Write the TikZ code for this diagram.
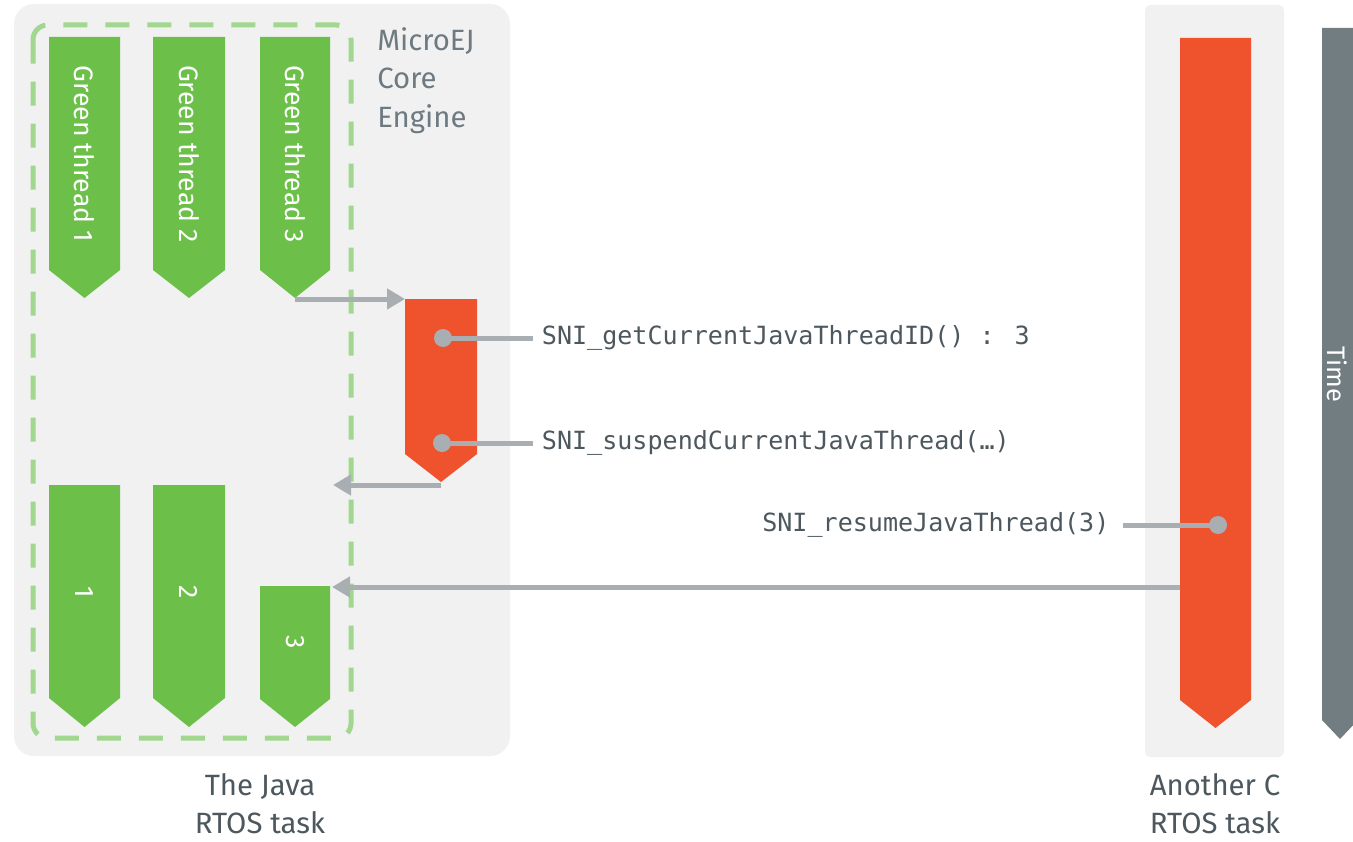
\documentclass[tikz,border=0pt]{standalone}
\usepackage{fontspec}
\setmainfont{Fira Sans}
\newfontfamily\codefont{DejaVu Sans Mono}
\usetikzlibrary{arrows.meta}
\definecolor{panelgrey}{HTML}{F1F1F1}
\definecolor{threadgreen}{HTML}{6CC04A}
\definecolor{dashgreen}{HTML}{A2D78F}
\definecolor{taskred}{HTML}{EE532E}
\definecolor{linkgrey}{HTML}{A8AEB1}
\definecolor{timegrey}{HTML}{727D82}
\definecolor{labelgrey}{HTML}{6E7A82}
\definecolor{textdark}{HTML}{4D585E}
\tikzset{
  arr/.style={draw=linkgrey, line width=3.75pt, -{Triangle[length=13.5pt,width=15pt]}},
  conn/.style={draw=linkgrey, line width=3.75pt},
  dot/.style={circle, fill=linkgrey, minimum size=13.5pt, inner sep=0pt},
  threadtxt/.style={text=white, rotate=-90, font=\fontsize{20}{24}\selectfont, inner sep=0pt},
  codetxt/.style={text=textdark, font=\codefont\fontsize{18.8}{22}\selectfont, inner ysep=0pt},
  bigtxt/.style={font=\fontsize{22}{29}\selectfont, inner sep=0pt}
}
\begin{document}
\begin{tikzpicture}[x=0.75pt,y=-0.75pt]
\useasboundingbox (0,0) rectangle (1353,842);
\fill[white] (0,0) rectangle (1353,842);
% panels
\fill[panelgrey, rounded corners=15pt] (14,4) rectangle (510,756);
\fill[panelgrey, rounded corners=4pt] (1145,5) rectangle (1284,757);
% dashed frame
\draw[dashgreen, line width=3.75pt, rounded corners=11pt, dash pattern=on 18pt off 13.5pt] (33,25) rectangle (351,738);
% top green threads
\fill[threadgreen] (49,37) -- (120,37) -- (120,270) -- (84.5,298) -- (49,270) -- cycle;
\fill[threadgreen] (153,37) -- (225,37) -- (225,270) -- (189,298) -- (153,270) -- cycle;
\fill[threadgreen] (260,37) -- (330,37) -- (330,270) -- (295,298) -- (260,270) -- cycle;
\node[threadtxt] (g1) at (84,154) {Green thread 1};
\node[threadtxt] (g2) at (189,154) {Green thread 2};
\node[threadtxt] (g3) at (295,154) {Green thread 3};
% bottom green threads
\fill[threadgreen] (49,485) -- (120,485) -- (120,698) -- (84.5,727) -- (49,698) -- cycle;
\fill[threadgreen] (153,485) -- (225,485) -- (225,698) -- (189,727) -- (153,698) -- cycle;
\fill[threadgreen] (260,586) -- (330,586) -- (330,699) -- (295,727) -- (260,699) -- cycle;
\node[threadtxt] (b1) at (84,592) {1};
\node[threadtxt] (b2) at (189,592) {2};
\node[threadtxt] (b3) at (295,642) {3};
% engine label
\node[bigtxt, text=labelgrey, anchor=north west, align=left] (engine) at (377,27) {MicroEJ\\Core\\Engine};
% red native call
\fill[taskred] (405,299) -- (477,299) -- (477,454) -- (441,482) -- (405,454) -- cycle;
% right red task
\fill[taskred] (1180,38) -- (1251,38) -- (1251,700) -- (1215.5,728) -- (1180,700) -- cycle;
% time bar
\fill[timegrey] (1322,28) -- (1358,28) -- (1358,720) -- (1340,739) -- (1322,720) -- cycle;
\node[threadtxt, font=\fontsize{19}{22}\selectfont] (time) at (1337,374) {Time};
% coordinates
\coordinate (t3tip) at (295,299);
\coordinate (redin) at (405,299);
\coordinate (redtip) at (441,485);
\coordinate (backend) at (333,485);
\coordinate (cleft) at (1180,587);
\coordinate (t3in) at (332,587);
% arrows
\draw[arr] (t3tip) -- (redin);
\draw[arr] (redtip) -- (backend);
\draw[arr] (cleft) -- (t3in);
% call labels
\node[dot] (d1) at (443,338) {};
\node[dot] (d2) at (442,443) {};
\node[dot] (d3) at (1218,525) {};
\node[codetxt, anchor=west, inner xsep=6.5pt] (l1) at (533,338) {SNI\_getCurrentJavaThreadID() : 3};
\node[codetxt, anchor=west, inner xsep=6.5pt] (l2) at (533,443) {SNI\_suspendCurrentJavaThread(…)};
\node[codetxt, anchor=east, inner xsep=10pt] (l3) at (1123,525) {SNI\_resumeJavaThread(3)};
\draw[conn] (d1.center) -- (l1.west);
\draw[conn] (d2.center) -- (l2.west);
\draw[conn] (l3.east) -- (d3.center);
% task labels
\node[bigtxt, text=textdark, anchor=north, align=center] (javatask) at (260,773) {The Java\\RTOS task};
\node[bigtxt, text=textdark, anchor=north, align=center] (ctask) at (1215,773) {Another C\\RTOS task};
\end{tikzpicture}
\end{document}
